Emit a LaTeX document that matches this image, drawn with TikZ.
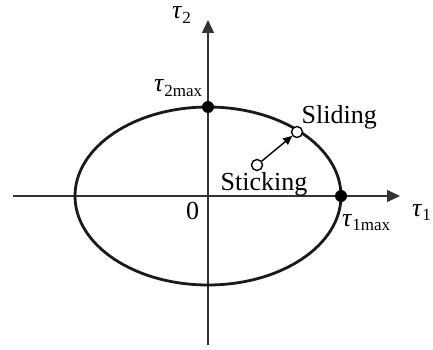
\documentclass[tikz,border=0pt]{standalone}
\usepackage{fontspec}
\setmainfont{Liberation Serif}
\usetikzlibrary{arrows.meta,positioning}
\tikzset{
  axis/.style={line width=1.3pt, draw=black!80,
    -{Triangle[length=13pt,width=12pt]}},
  bound/.style={line width=2.8pt, draw=black!90},
  fdot/.style={circle, fill=black, inner sep=0pt, minimum size=12pt},
  odot/.style={circle, draw=black, fill=white, line width=1.4pt,
    inner sep=0pt, minimum size=11pt},
  lbl/.style={inner sep=0pt, anchor=base west,
    font=\fontsize{26}{30}\selectfont},
  mv/.style={-{Triangle[length=9pt,width=8pt]}, line width=1.4pt},
}
\newcommand{\taulab}[1]{\textit{τ}\raisebox{-0.17em}{\fontsize{17}{20}\selectfont #1}}
\begin{document}
\begin{tikzpicture}[x=1pt,y=-1pt]
  \useasboundingbox (0,0) rectangle (433,350);

  % Axes
  \coordinate (xl) at (13,196);
  \coordinate (xr) at (400,196);
  \coordinate (yb) at (208,345);
  \coordinate (yt) at (208,20);
  \draw[axis] (xl) -- (xr);
  \draw[axis] (yb) -- (yt);

  % Friction ellipse
  \draw[bound] (208,196) ellipse [x radius=133, y radius=89];

  % Limit points
  \node[fdot] (t2max) at (208,107) {};
  \node[fdot] (t1max) at (341,196) {};

  % Sticking -> sliding
  \node[odot] (slide) at (297,132) {};
  \node[odot] (stick) at (257,165) {};
  \draw[mv] (stick) -- (slide);

  % Labels
  \node[lbl] at (172,19)    {\taulab{2}};
  \node[lbl] at (154,92)    {\taulab{2max}};
  \node[lbl] at (412,216)   {\taulab{1}};
  \node[lbl] at (342,226)   {\taulab{1max}};
  \node[lbl] at (186,219)   {0};
  \node[lbl] at (301.5,123) {Sliding};
  \node[lbl] at (220.5,190) {Sticking};
\end{tikzpicture}
\end{document}
